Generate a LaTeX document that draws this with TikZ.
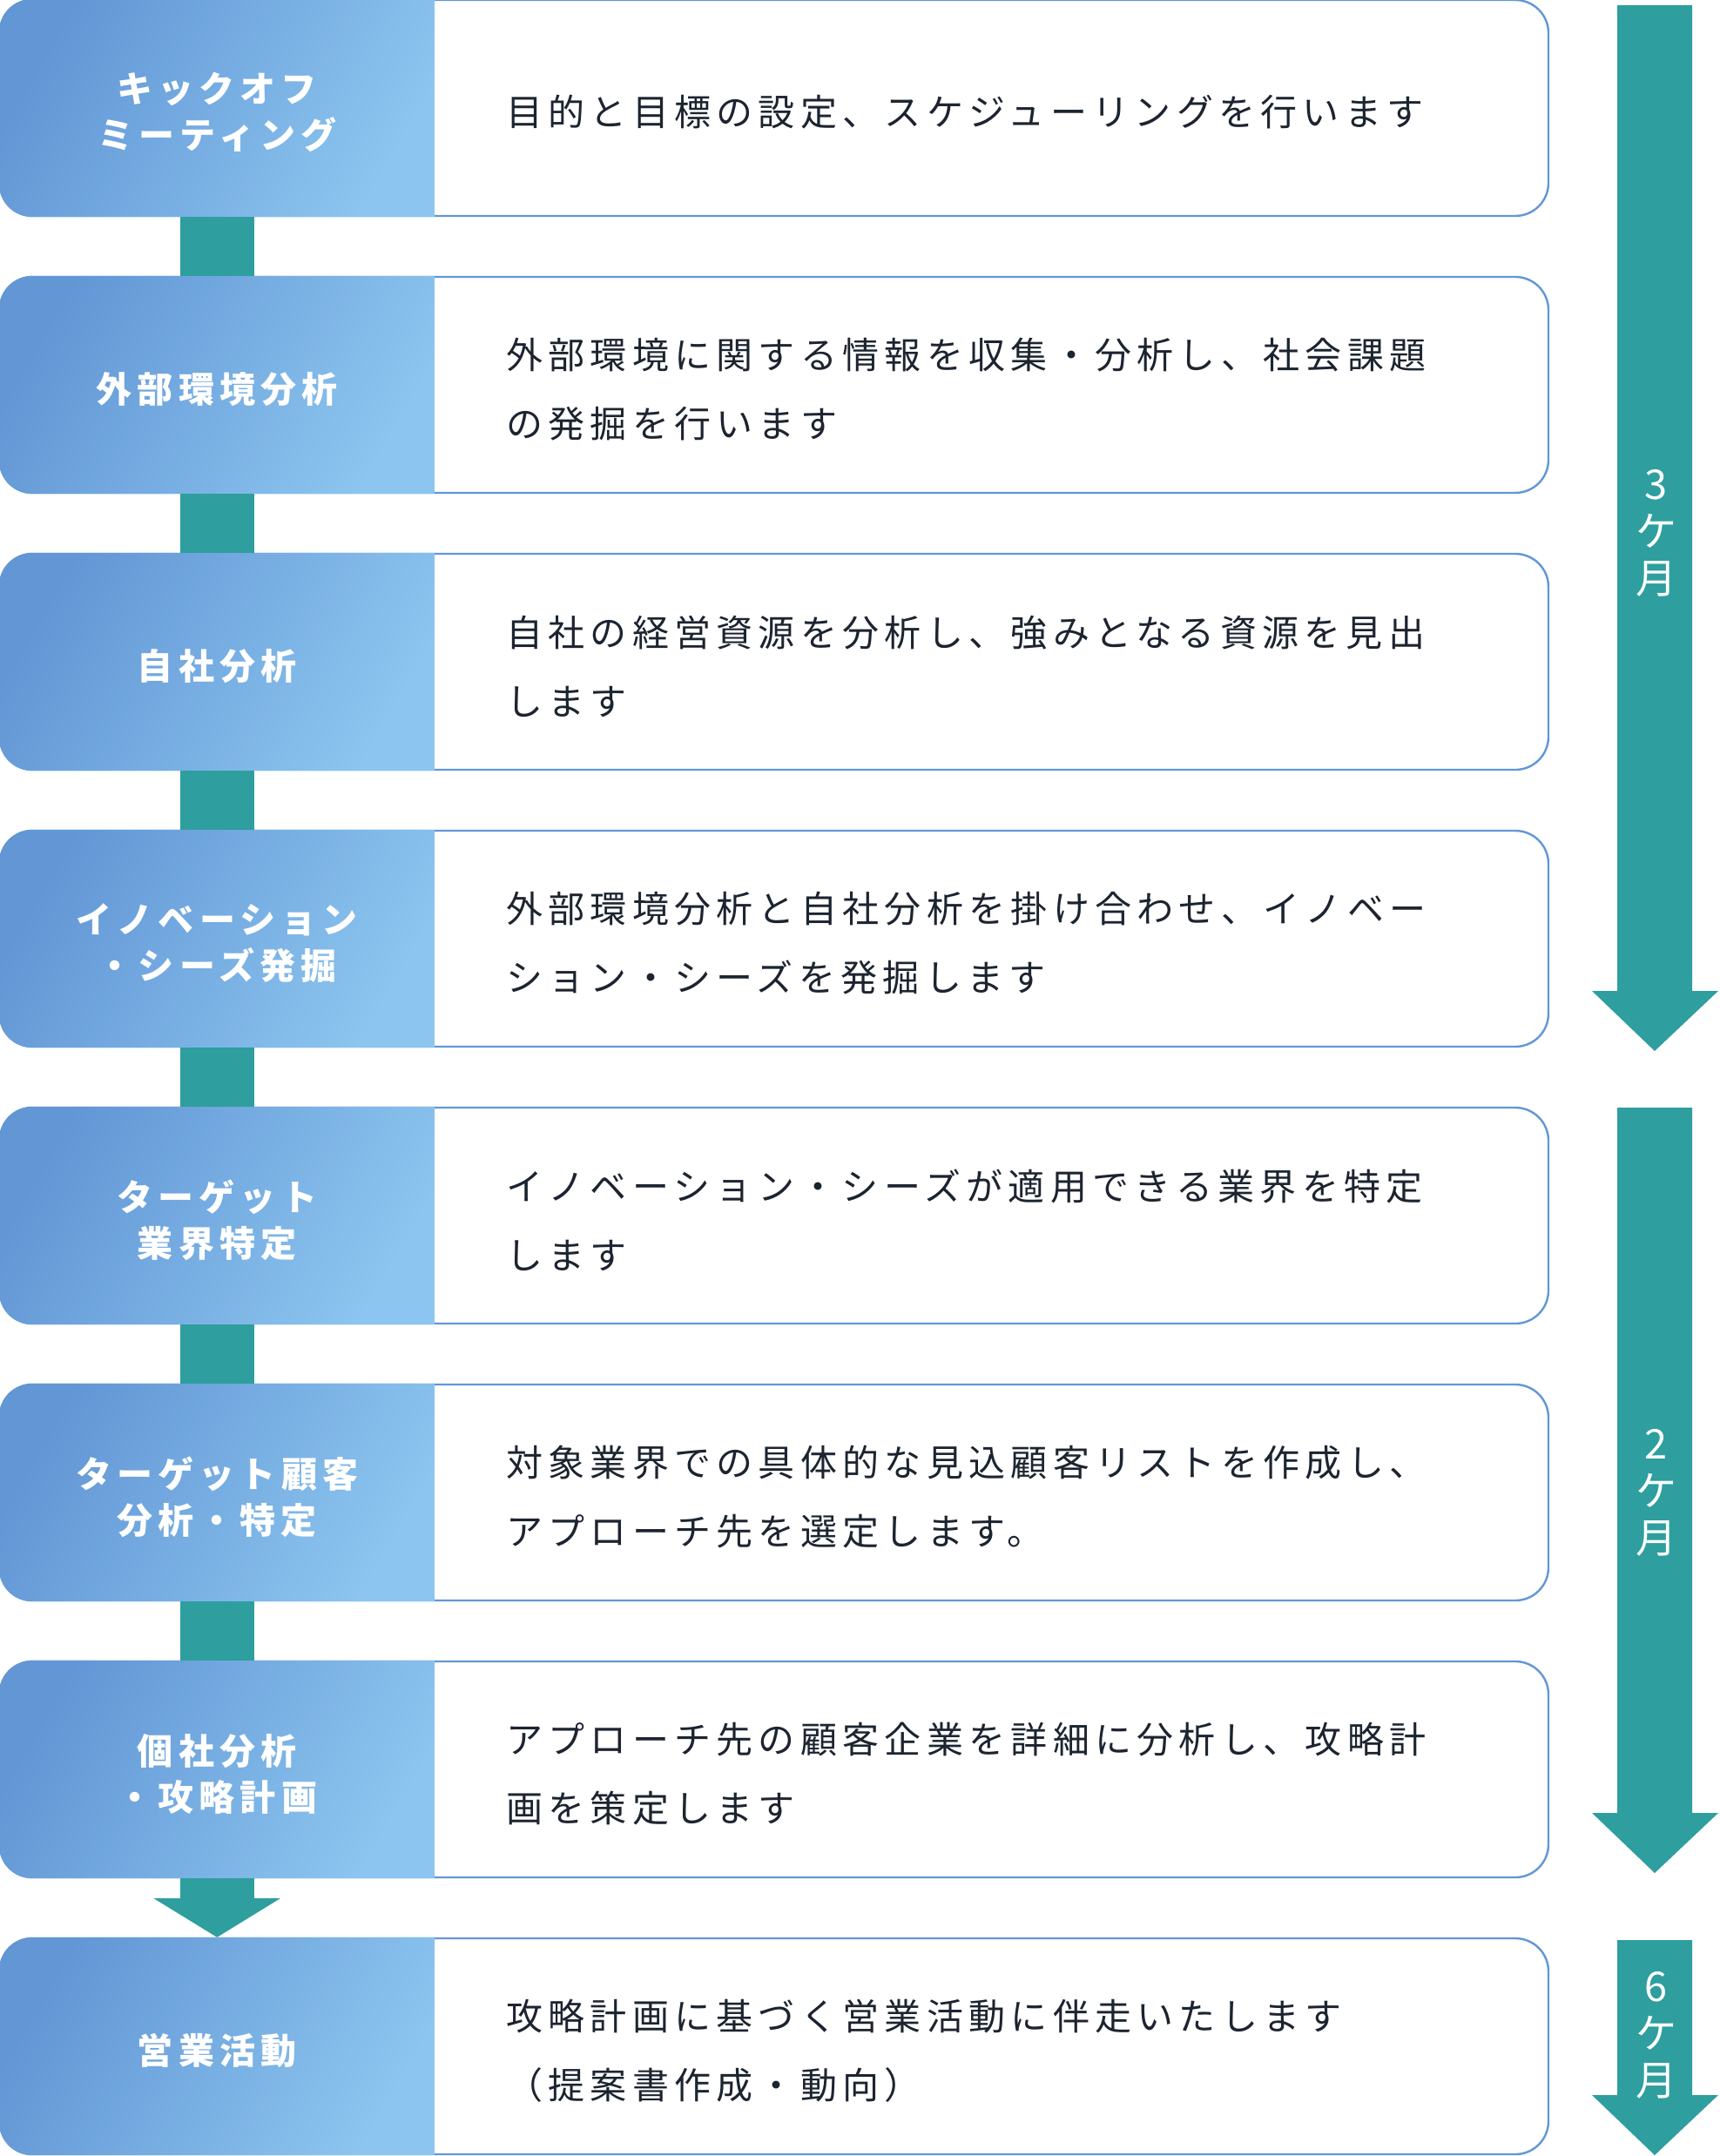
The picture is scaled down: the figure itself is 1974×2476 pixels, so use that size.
\documentclass[tikz,border=0pt]{standalone}
\usepackage{fontspec}
\setmainfont{Noto Sans CJK JP}[LetterSpace=15]
\usetikzlibrary{calc}

\definecolor{flowteal}{RGB}{46,158,158}
\definecolor{cardline}{RGB}{98,151,214}
\definecolor{labdark}{RGB}{98,150,213}
\definecolor{lablight}{RGB}{140,197,239}
\definecolor{desctext}{RGB}{28,36,48}

\tikzset{
  card/.style={draw=cardline, line width=1.2pt, fill=white, rounded corners=19pt,
    minimum width=889pt, minimum height=124pt, inner sep=0pt},
  labshade/.style={top color=labdark, bottom color=lablight, shading angle=60},
  lab/.style={text=white, align=center, anchor=west, minimum width=250pt,
    minimum height=124pt, inner sep=0pt, yshift=-2.5pt,
    font=\fontsize{20.5}{26.5}\selectfont\bfseries},
  desc/.style={text=desctext, align=left, anchor=west, inner sep=0pt, yshift=-2.5pt,
    font=\fontsize{21}{39.5}\selectfont},
  bar/.style={draw=flowteal, line width=42.5pt},
  period/.style={text=white, align=center, inner sep=0pt,
    font=\fontsize{23.5}{27}\selectfont}
}

\begin{document}
\begin{tikzpicture}[x=0.5pt, y=-0.5pt]
  \useasboundingbox (0,0) rectangle (1974,2476);

  \foreach \n in {1,...,8}
    \node[card] (card\n) at (889,{318*(\n-1)+124}) {};
  \foreach \n in {1,...,8}{
    \begin{scope}
      \clip[rounded corners=19pt] (card\n.north west) rectangle (card\n.south east);
      \shade[labshade] (card\n.north west) rectangle ($(card\n.south west)+(500,0)$);
    \end{scope}
  }

  \node[lab] (lab1) at (card1.west) {キックオフ\\ミーティング};
  \node[lab] (lab2) at (card2.west) {外部環境分析};
  \node[lab] (lab3) at (card3.west) {自社分析};
  \node[lab] (lab4) at (card4.west) {イノベーション\\・シーズ発掘};
  \node[lab] (lab5) at (card5.west) {ターゲット\\業界特定};
  \node[lab] (lab6) at (card6.west) {ターゲット顧客\\分析・特定};
  \node[lab] (lab7) at (card7.west) {個社分析\\・攻略計画};
  \node[lab] (lab8) at (card8.west) {営業活動};

  \node[desc] (desc1) at ($(card1.west)+(582,0)$) {目的と目標の設定、スケジューリングを行います};
  \node[desc] (desc2) at ($(card2.west)+(582,0)$) {外部環境に関する情報を収集・分析し、社会課題\\の発掘を行います};
  \node[desc] (desc3) at ($(card3.west)+(582,0)$) {自社の経営資源を分析し、強みとなる資源を見出\\します};
  \node[desc] (desc4) at ($(card4.west)+(582,0)$) {外部環境分析と自社分析を掛け合わせ、イノベー\\ション・シーズを発掘します};
  \node[desc] (desc5) at ($(card5.west)+(582,0)$) {イノベーション・シーズが適用できる業界を特定\\します};
  \node[desc] (desc6) at ($(card6.west)+(582,0)$) {対象業界での具体的な見込顧客リストを作成し、\\アプローチ先を選定します。};
  \node[desc] (desc7) at ($(card7.west)+(582,0)$) {アプローチ先の顧客企業を詳細に分析し、攻略計\\画を策定します};
  \node[desc] (desc8) at ($(card8.west)+(582,0)$) {攻略計画に基づく営業活動に伴走いたします\\（提案書作成・動向）};

  \draw[bar] (card1.south -| lab1) -- (card2.north -| lab2);
  \draw[bar] (card2.south -| lab2) -- (card3.north -| lab3);
  \draw[bar] (card3.south -| lab3) -- (card4.north -| lab4);
  \draw[bar] (card4.south -| lab4) -- (card5.north -| lab5);
  \draw[bar] (card5.south -| lab5) -- (card6.north -| lab6);
  \draw[bar] (card6.south -| lab6) -- (card7.north -| lab7);
  \coordinate (head7) at ($(card7.south -| lab7)+(0,23)$);
  \draw[bar] (card7.south -| lab7) -- (head7);
  \fill[flowteal] ($(head7)+(-72.5,0)$) -- ($(head7)+(72.5,0)$) -- (card8.north -| lab8) -- cycle;

  \fill[flowteal] (1857,6) -- (1943,6) -- (1943,1138) -- (1973,1138)
    -- (1900,1207) -- (1828,1138) -- (1857,1138) -- cycle;
  \fill[flowteal] (1857,1272) -- (1943,1272) -- (1943,2082) -- (1973,2082)
    -- (1900,2151) -- (1828,2082) -- (1857,2082) -- cycle;
  \fill[flowteal] (1857,2228) -- (1943,2228) -- (1943,2406) -- (1973,2406)
    -- (1900,2475) -- (1828,2406) -- (1857,2406) -- cycle;
  \node[period] (per1) at (1902,612) {3\\ケ\\月};
  \node[period] (per2) at (1902,1714) {2\\ケ\\月};
  \node[period] (per3) at (1902,2337) {6\\ケ\\月};
\end{tikzpicture}
\end{document}
